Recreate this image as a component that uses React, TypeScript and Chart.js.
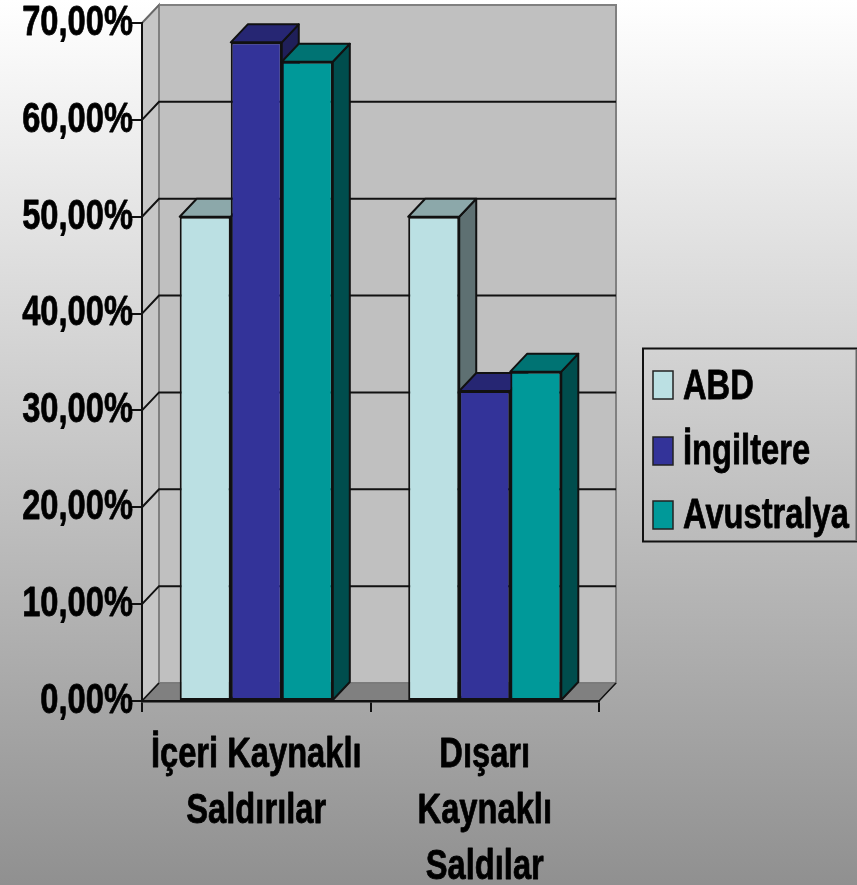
import React, { useEffect, useRef } from "react";
import { Chart, registerables } from "chart.js";

Chart.register(...registerables);

const categories = [["İçeri Kaynaklı", "Saldırılar"], ["Dışarı", "Kaynaklı", "Saldılar"]];
const seriesNames = ["ABD", "İngiltere", "Avustralya"];
const abd = [50, 50];
const ingiltere = [68, 32];
const avustralya = [66, 34];
const frontColors = ["#BBE0E3", "#333399", "#009999"];
const topColors = ["#8CA8AA", "#262673", "#007373"];
const sideColors = ["#5E7072", "#1F1F59", "#004D4D"];

const FONT = "'Liberation Sans', Arial, sans-serif";
const TEXT_SQUEEZE = 0.76;
const DX = 17;
const DY = -18;
const LINE = "#111111";

function poly(ctx: CanvasRenderingContext2D, pts: number[][], fill: string | null, stroke: string | null, lw = 2) {
  ctx.beginPath();
  pts.forEach((p, i) => (i ? ctx.lineTo(p[0], p[1]) : ctx.moveTo(p[0], p[1])));
  ctx.closePath();
  if (fill) { ctx.fillStyle = fill; ctx.fill(); }
  if (stroke) { ctx.strokeStyle = stroke; ctx.lineWidth = lw; ctx.stroke(); }
}

const walls = {
  id: "walls",
  beforeDraw(chart: any) {
    const { ctx, chartArea: a, scales } = chart;
    ctx.save();
    poly(ctx, [[a.left + DX, a.top + DY], [a.right + DX, a.top + DY], [a.right + DX, a.bottom + DY], [a.left + DX, a.bottom + DY]], "#C0C0C0", "#808080", 2);
    poly(ctx, [[a.left, a.top], [a.left + DX, a.top + DY], [a.left + DX, a.bottom + DY], [a.left, a.bottom]], "#C6C6C6", "#808080", 2);
    poly(ctx, [[a.left, a.bottom], [a.left + DX, a.bottom + DY], [a.right + DX, a.bottom + DY], [a.right, a.bottom]], "#808080", "#777777", 1);
    scales.y.ticks.forEach((t: any) => {
      if (t.value === 0 || t.value === 70) return;
      const y = scales.y.getPixelForValue(t.value);
      ctx.strokeStyle = "#111111";
      ctx.lineWidth = 2;
      ctx.beginPath();
      ctx.moveTo(a.left, y);
      ctx.lineTo(a.left + DX, y + DY);
      ctx.lineTo(a.right + DX, y + DY);
      ctx.stroke();
    });
    ctx.strokeStyle = "#111111";
    ctx.lineWidth = 1.5;
    ctx.beginPath();
    ctx.moveTo(a.left, a.bottom);
    ctx.lineTo(a.left + DX, a.bottom + DY);
    ctx.moveTo(a.right, a.bottom);
    ctx.lineTo(a.right + DX, a.bottom + DY);
    ctx.stroke();
    ctx.strokeStyle = "#666666";
    ctx.lineWidth = 1.5;
    ctx.beginPath();
    ctx.moveTo(a.left, a.top);
    ctx.lineTo(a.left + DX, a.top + DY);
    ctx.stroke();
    ctx.restore();
  },
};

const bars3d = {
  id: "bars3d",
  beforeDatasetsDraw(chart: any) {
    const { ctx } = chart;
    chart.data.datasets.forEach((_: any, i: number) => {
      const meta = chart.getDatasetMeta(i);
      meta.data.forEach((el: any) => {
        const p = el.getProps(["x", "y", "base", "width"], true);
        const l = p.x - p.width / 2;
        const r = p.x + p.width / 2;
        ctx.save();
        ctx.lineJoin = "round";
        poly(ctx, [[r, p.y], [r + DX, p.y + DY], [r + DX, p.base + DY], [r, p.base]], sideColors[i], LINE, 2);
        poly(ctx, [[l, p.y], [l + DX, p.y + DY], [r + DX, p.y + DY], [r, p.y]], topColors[i], LINE, 2);
        ctx.restore();
      });
      meta.controller.draw();
    });
    return false;
  },
};

const boxLegend = {
  id: "boxLegend",
  afterDraw(chart: any) {
    const { ctx } = chart;
    const swatchTop = [371, 437, 501];
    const baselines = [399, 464, 528];
    ctx.save();
    ctx.strokeStyle = "#111111";
    ctx.lineWidth = 2;
    ctx.beginPath();
    ctx.moveTo(857, 348.5);
    ctx.lineTo(643, 348.5);
    ctx.lineTo(643, 541.5);
    ctx.lineTo(857, 541.5);
    ctx.stroke();
    ctx.strokeStyle = "#666666";
    ctx.beginPath();
    ctx.moveTo(856.5, 349);
    ctx.lineTo(856.5, 541);
    ctx.stroke();
    ctx.font = `bold 43px ${FONT}`;
    ctx.textAlign = "left";
    ctx.textBaseline = "alphabetic";
    chart.data.datasets.forEach((d: any, i: number) => {
      ctx.fillStyle = d.backgroundColor;
      ctx.fillRect(653, swatchTop[i], 20, 28);
      ctx.strokeStyle = "#222222";
      ctx.lineWidth = 1.5;
      ctx.strokeRect(653, swatchTop[i], 20, 28);
      ctx.fillStyle = "#000000";
      ctx.fillText(d.label, 683, baselines[i]);
    });
    ctx.restore();
  },
};

// The reference's text is stretched tall and heavy; squeeze every string around its anchor.
const squeezeText = {
  id: "squeezeText",
  beforeInit(chart: any) {
    const ctx = chart.ctx;
    const originalFill = ctx.fillText.bind(ctx);
    const originalStroke = ctx.strokeText.bind(ctx);
    ctx.fillText = (text: string, x: number, y: number) => {
      ctx.save();
      ctx.translate(x, y);
      ctx.scale(TEXT_SQUEEZE, 1);
      originalFill(text, 0, 0);
      ctx.strokeStyle = "#000000";
      ctx.lineWidth = 0.8;
      ctx.lineJoin = "round";
      originalStroke(text, 0, 0);
      ctx.restore();
    };
  },
};

export default function App() {
  const ref = useRef<HTMLCanvasElement>(null);
  useEffect(() => {
    const values = [abd, ingiltere, avustralya];
    const chart = new Chart(ref.current as HTMLCanvasElement, {
      type: "bar",
      data: {
        labels: categories as any,
        datasets: seriesNames.map((name, i) => ({
          label: name,
          data: values[i],
          backgroundColor: frontColors[i],
          borderColor: LINE,
          borderWidth: 2,
          borderSkipped: false,
          barPercentage: 1,
          categoryPercentage: 0.67,
        })),
      },
      options: {
        responsive: false,
        animation: false,
        events: [],
        layout: { padding: { left: 0, right: 258, top: 23, bottom: 0 } },
        plugins: { legend: { display: false }, tooltip: { enabled: false }, title: { display: false } },
        scales: {
          x: {
            offset: true,
            afterFit: (s: any) => { s.height = 184; },
            grid: { drawOnChartArea: false, drawTicks: true, tickLength: 11, color: "#111111", lineWidth: 2, offset: true },
            border: { color: "#111111", width: 2.5 },
            ticks: {
              autoSkip: false,
              maxRotation: 0,
              minRotation: 0,
              padding: 15,
              color: "#000000",
              font: { family: FONT, size: 43, weight: "bold", lineHeight: 1.3 },
            },
          },
          y: {
            min: 0,
            max: 70,
            afterFit: (s: any) => { s.width = 142; },
            grid: { drawOnChartArea: false, drawTicks: true, tickLength: 12, color: "#111111", lineWidth: 2 },
            border: { color: "#111111", width: 2 },
            ticks: {
              stepSize: 10,
              padding: -3,
              color: "#000000",
              font: { family: FONT, size: 43, weight: "bold" },
              callback: (v: any) => Number(v).toFixed(2).replace(".", ",") + "%",
            },
          },
        },
      } as any,
      plugins: [squeezeText, walls, bars3d, boxLegend],
    });
    return () => chart.destroy();
  }, []);
  return (
    <div style={{ position: "fixed", left: 0, top: 0, width: 857, height: 885, overflow: "hidden", background: "linear-gradient(to bottom, #ffffff 0%, #909090 100%)" }}>
      <canvas ref={ref} width={857} height={885} style={{ display: "block" }} />
    </div>
  );
}
